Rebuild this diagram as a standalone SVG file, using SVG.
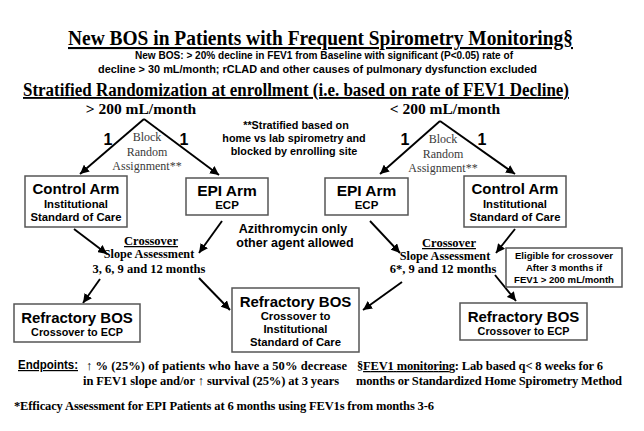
<svg xmlns="http://www.w3.org/2000/svg" width="644" height="431" viewBox="0 0 644 431">
<defs>
<style>
.serif{font-family:"Liberation Serif","Times New Roman",serif;font-weight:bold;fill:#000}
.sans{font-family:"Liberation Sans",Arial,sans-serif;font-weight:bold;fill:#000}
.blk{font-family:"Liberation Serif","Times New Roman",serif;font-weight:normal;fill:#3a3a3a;font-size:12px}
.box{fill:#fff;stroke:#555;stroke-width:1.5}
.c{text-anchor:middle}
.ln{stroke:#000;stroke-width:1.9;fill:none}
.u{text-decoration:underline}
</style>
<marker id="ah" viewBox="0 0 10 10" refX="10" refY="5" markerWidth="9" markerHeight="9" markerUnits="userSpaceOnUse" orient="auto">
<path d="M0,0 L10,5 L0,10 z" fill="#000"/>
</marker>
</defs>
<rect width="644" height="431" fill="#fff"/>

<g id="title">
<text class="serif c u" x="320.5" y="45" font-size="21" textLength="505" lengthAdjust="spacingAndGlyphs">New BOS in Patients with Frequent Spirometry Monitoring§</text>
</g>
<g id="definition">
<text class="sans c" x="324" y="59" font-size="10.5" textLength="378" lengthAdjust="spacingAndGlyphs">New BOS: &gt; 20% decline in FEV1 from Baseline with significant (P&lt;0.05) rate of</text>
<text class="sans c" x="317.5" y="73" font-size="10.5" textLength="439" lengthAdjust="spacingAndGlyphs">decline &gt; 30 mL/month; rCLAD and other causes of pulmonary dysfunction excluded</text>
</g>
<g id="strat-header">
<text class="serif c u" x="296" y="96" font-size="18.5" textLength="546" lengthAdjust="spacingAndGlyphs">Stratified Randomization at enrollment (i.e. based on rate of FEV1 Decline)</text>
</g>
<g id="header-high">
<text class="serif c" x="141" y="114" font-size="15.5">&gt; 200 mL/month</text>
</g>
<g id="header-low">
<text class="serif c" x="445" y="114" font-size="15.5">&lt; 200 mL/month</text>
</g>

<g id="connectors">
<line class="ln" x1="144" y1="119" x2="80" y2="174" marker-end="url(#ah)"/>
<line class="ln" x1="144" y1="119" x2="219" y2="175" marker-end="url(#ah)"/>
<line class="ln" x1="440" y1="121" x2="380" y2="174" marker-end="url(#ah)"/>
<line class="ln" x1="440" y1="121" x2="515" y2="174" marker-end="url(#ah)"/>
<line class="ln" x1="74" y1="229" x2="107" y2="254" marker-end="url(#ah)"/>
<line class="ln" x1="222" y1="221" x2="199" y2="253" marker-end="url(#ah)"/>
<line class="ln" x1="370" y1="221" x2="400" y2="253" marker-end="url(#ah)"/>
<line class="ln" x1="515" y1="229" x2="496" y2="253" marker-end="url(#ah)"/>
<line class="ln" x1="100" y1="279" x2="83" y2="303" marker-end="url(#ah)"/>
<line class="ln" x1="199" y1="278" x2="230" y2="310" marker-end="url(#ah)"/>
<line class="ln" x1="402" y1="282" x2="363" y2="310" marker-end="url(#ah)"/>
<line class="ln" x1="495" y1="275" x2="516" y2="301" marker-end="url(#ah)"/>
</g>

<g id="ratio-left">
<text class="sans c" x="108" y="145" font-size="16">1</text>
<text class="sans c" x="184" y="145" font-size="16">1</text>
</g>
<g id="ratio-right">
<text class="sans c" x="405" y="145" font-size="16">1</text>
<text class="sans c" x="482" y="145" font-size="16">1</text>
</g>
<g id="block-left">
<text class="blk c" x="147" y="141">Block</text>
<text class="blk c" x="147" y="156">Random</text>
<text class="blk c" x="147" y="170">Assignment**</text>
</g>
<g id="block-right">
<text class="blk c" x="443" y="143">Block</text>
<text class="blk c" x="443" y="158">Random</text>
<text class="blk c" x="443" y="172">Assignment**</text>
</g>
<g id="strat-note">
<text class="sans c" x="296" y="129" font-size="10.8">**Stratified based on</text>
<text class="sans c" x="294" y="142" font-size="10.8">home vs lab spirometry and</text>
<text class="sans c" x="294" y="155" font-size="10.8">blocked by enrolling site</text>
</g>

<g id="control-left">
<rect class="box" x="25" y="176" width="102" height="51"/>
<text class="sans c" x="76" y="194" font-size="15">Control Arm</text>
<text class="sans c" x="76" y="208" font-size="11.3">Institutional</text>
<text class="sans c" x="76" y="221" font-size="11.3">Standard of Care</text>
</g>
<g id="epi-left">
<rect class="box" x="186" y="178" width="82" height="37"/>
<text class="sans c" x="227" y="196" font-size="15.5">EPI Arm</text>
<text class="sans c" x="227" y="209" font-size="11.5">ECP</text>
</g>
<g id="epi-right">
<rect class="box" x="325" y="178" width="83" height="37"/>
<text class="sans c" x="366.5" y="196" font-size="15.5">EPI Arm</text>
<text class="sans c" x="366.5" y="209" font-size="11.5">ECP</text>
</g>
<g id="control-right">
<rect class="box" x="464" y="176" width="102" height="51"/>
<text class="sans c" x="515" y="194" font-size="15">Control Arm</text>
<text class="sans c" x="515" y="208" font-size="11.3">Institutional</text>
<text class="sans c" x="515" y="221" font-size="11.3">Standard of Care</text>
</g>

<g id="azithromycin">
<text class="sans c" x="293" y="233" font-size="12.5">Azithromycin only</text>
<text class="sans c" x="295" y="247" font-size="12.5">other agent allowed</text>
</g>

<g id="crossover-left">
<text class="serif c u" x="151" y="245" font-size="12.5">Crossover</text>
<text class="serif c" x="149" y="258" font-size="12.2">Slope Assessment</text>
<text class="serif c" x="149" y="273" font-size="12.5">3, 6, 9 and 12 months</text>
</g>
<g id="crossover-right">
<text class="serif c u" x="449" y="247" font-size="12.5">Crossover</text>
<text class="serif c" x="445" y="260" font-size="12.2">Slope Assessment</text>
<text class="serif c" x="443" y="273" font-size="12.5">6*, 9 and 12 months</text>
</g>

<g id="eligible">
<rect class="box" x="506" y="248" width="116" height="39"/>
<text class="sans c" x="564" y="259" font-size="9.6">Eligible for crossover</text>
<text class="sans c" x="564" y="271" font-size="9.6">After 3 months if</text>
<text class="sans c" x="564" y="283" font-size="9.6">FEV1 &gt; 200 mL/month</text>
</g>

<g id="refractory-left">
<rect class="box" x="14" y="304" width="126" height="38"/>
<text class="sans c" x="77" y="323" font-size="15">Refractory BOS</text>
<text class="sans c" x="77" y="336" font-size="10.8">Crossover to ECP</text>
</g>
<g id="refractory-center">
<rect class="box" x="232" y="288" width="127" height="64"/>
<text class="sans c" x="295.5" y="307" font-size="15">Refractory BOS</text>
<text class="sans c" x="295.5" y="320" font-size="11.3">Crossover to</text>
<text class="sans c" x="295.5" y="333" font-size="11.3">Institutional</text>
<text class="sans c" x="295.5" y="346" font-size="11.3">Standard of Care</text>
</g>
<g id="refractory-right">
<rect class="box" x="460" y="303" width="127" height="37"/>
<text class="sans c" x="523.5" y="322" font-size="15">Refractory BOS</text>
<text class="sans c" x="523.5" y="335" font-size="10.8">Crossover to ECP</text>
</g>

<g id="endpoints">
<text class="sans u" x="18" y="369" font-size="12" textLength="60" lengthAdjust="spacingAndGlyphs">Endpoints:</text>
<text class="serif" x="86" y="370" font-size="12.5" textLength="261" lengthAdjust="spacing">↑ % (25%) of patients who have a 50% decrease</text>
<text class="serif" x="83" y="385" font-size="12.5" textLength="256" lengthAdjust="spacing">in FEV1 slope and/or ↑ survival (25%) at 3 years</text>
</g>
<g id="monitoring">
<text class="serif" x="357" y="370" font-size="12.5" textLength="246" lengthAdjust="spacing">§<tspan class="u">FEV1 monitoring</tspan>:  Lab based q&lt; 8 weeks for 6</text>
<text class="serif" x="356" y="385" font-size="12.5" textLength="266" lengthAdjust="spacing">months or Standardized  Home Spirometry Method</text>
</g>
<g id="footnote">
<text class="serif" x="14" y="410" font-size="12.5" textLength="420" lengthAdjust="spacing">*Efficacy Assessment for EPI Patients at 6 months using FEV1s from months 3-6</text>
</g>
</svg>
